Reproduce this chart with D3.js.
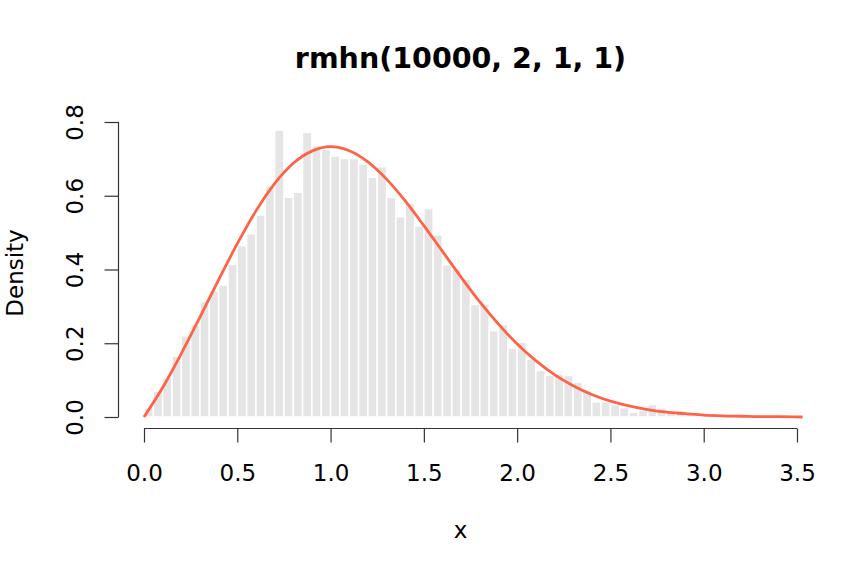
<!DOCTYPE html>
<html>
<head>
<meta charset="utf-8">
<script src="https://cdn.jsdelivr.net/npm/d3@7"></script>
<style>
  body { margin: 0; background: #fff; }
  text { font-family: "DejaVu Sans", sans-serif; fill: #000; }
</style>
</head>
<body>
<svg id="chart" width="864" height="576"></svg>
<script>
// Histogram: bin left edges (width 0.05) and densities
const binWidth = 0.05;
const binStarts = [
  0.00,0.05,0.10,0.15,0.20,0.25,0.30,0.35,0.40,0.45,
  0.50,0.55,0.60,0.65,0.70,0.75,0.80,0.85,0.90,0.95,
  1.00,1.05,1.10,1.15,1.20,1.25,1.30,1.35,1.40,1.45,
  1.50,1.55,1.60,1.65,1.70,1.75,1.80,1.85,1.90,1.95,
  2.00,2.05,2.10,2.15,2.20,2.25,2.30,2.35,2.40,2.45,
  2.50,2.55,2.60,2.65,2.70,2.75,2.80,2.85,2.90,2.95,
  3.00,3.05,3.10,3.15
];
const densities = [
  0.025,0.070,0.107,0.165,0.220,0.251,0.313,0.342,0.358,0.414,
  0.465,0.497,0.548,0.627,0.778,0.596,0.610,0.772,0.736,0.726,
  0.708,0.701,0.701,0.686,0.650,0.679,0.596,0.543,0.580,0.518,
  0.565,0.494,0.413,0.401,0.373,0.306,0.307,0.234,0.251,0.187,
  0.203,0.158,0.127,0.113,0.117,0.113,0.094,0.072,0.041,0.041,
  0.034,0.025,0.013,0.018,0.034,0.025,0.013,0.018,0.007,0.004,
  0.003,0.002,0.001,0.001
];

// Density curve points
const curveX = [0.0,0.1,0.2,0.3,0.4,0.5,0.6,0.7,0.8,0.9,1.0,1.1,1.2,1.3,1.4,1.5,1.6,1.7,1.8,1.9,2.0,2.1,2.2,2.3,2.4,2.5,2.6,2.7,2.8,2.9,3.0,3.1,3.2,3.3,3.4,3.53];
const curveY = [0.000,0.080,0.172,0.271,0.372,0.470,0.559,0.633,0.688,0.721,0.733,0.722,0.692,0.645,0.586,0.519,0.449,0.379,0.312,0.252,0.198,0.153,0.115,0.085,0.061,0.043,0.030,0.020,0.013,0.009,0.005,0.003,0.002,0.001,0.001,0.000];

// Tick labels
const xTicks = [0.0,0.5,1.0,1.5,2.0,2.5,3.0,3.5];
const yTicks = [0.0,0.2,0.4,0.6,0.8];

const title = "rmhn(10000, 2, 1, 1)";
const xLabel = "x";
const yLabel = "Density";

const svg = d3.select("#chart");
const x = d3.scaleLinear().domain([0, 3.5]).range([144, 797]);
const y = d3.scaleLinear().domain([0, 0.8]).range([417, 122]);

// bars
svg.append("g").selectAll("rect")
  .data(binStarts.map((s, i) => ({s, d: densities[i]})))
  .join("rect")
  .attr("x", d => x(d.s))
  .attr("width", d => x(d.s + binWidth) - x(d.s))
  .attr("y", d => y(d.d))
  .attr("height", d => y(0) - y(d.d))
  .attr("fill", "#e5e5e5")
  .attr("stroke", "#ffffff")
  .attr("stroke-width", 1.5);

// curve
const line = d3.line()
  .x((d, i) => x(curveX[i]))
  .y(d => y(d))
  .curve(d3.curveMonotoneX);
svg.append("path")
  .datum(curveY)
  .attr("d", line)
  .attr("fill", "none")
  .attr("stroke", "#FF6347")
  .attr("stroke-width", 2.8);

// x axis
const xAxis = d3.axisBottom(x).tickValues(xTicks).tickSize(14).tickPadding(15)
  .tickFormat(d3.format(".1f"));
const gx = svg.append("g").attr("transform", "translate(0,428.5)").call(xAxis);
gx.select(".domain").attr("d", `M${x(0)},0H${x(3.5)}`).attr("stroke", "#333").attr("stroke-width", 1.2);
gx.selectAll(".tick line").attr("stroke", "#333").attr("stroke-width", 1.2);
gx.selectAll(".tick text").attr("font-size", 23).attr("font-family", "DejaVu Sans")
  .attr("dy", null).attr("y", 52.5);

// y axis
const yAxis = d3.axisLeft(y).tickValues(yTicks).tickSize(14).tickFormat(d3.format(".1f"));
const gy = svg.append("g").attr("transform", "translate(118.5,0)").call(yAxis);
gy.select(".domain").attr("d", `M0,${y(0)}V${y(0.8)}`).attr("stroke", "#333").attr("stroke-width", 1.2);
gy.selectAll(".tick line").attr("stroke", "#333").attr("stroke-width", 1.2);
gy.selectAll(".tick text")
  .attr("font-size", 23).attr("font-family", "DejaVu Sans")
  .attr("x", null).attr("dy", null)
  .attr("text-anchor", "middle")
  .attr("transform", "translate(-35.5,0) rotate(-90)");

// title and labels
svg.append("text").attr("x", 460.5).attr("y", 68)
  .attr("text-anchor", "middle").attr("font-size", 28.5).attr("font-weight", "bold")
  .text(title);
svg.append("text").attr("x", 460.5).attr("y", 538)
  .attr("text-anchor", "middle").attr("font-size", 23).text(xLabel);
svg.append("text").attr("transform", "translate(23,273) rotate(-90)")
  .attr("text-anchor", "middle").attr("font-size", 23).text(yLabel);
</script>
</body>
</html>
